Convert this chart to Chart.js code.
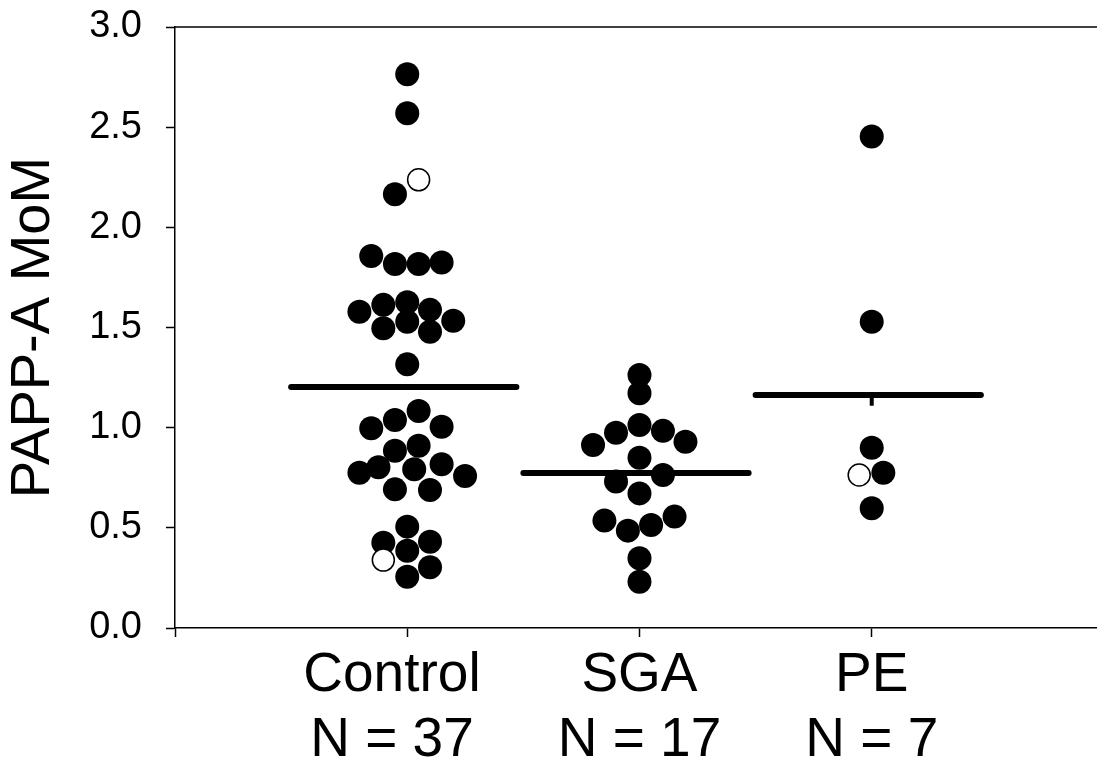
<!DOCTYPE html>
<html>
<head>
<meta charset="utf-8">
<script src="https://cdn.jsdelivr.net/npm/chart.js@4"></script>
<style>
  html, body { margin: 0; padding: 0; background: #fff; }
  #chart { display: block; }
</style>
</head>
<body>
<canvas id="chart" width="1097" height="770"></canvas>
<script>
// groups along the x axis
const categories = ['Control', 'SGA', 'PE'];
const counts = [37, 17, 7];
const yTicks = [0, 0.5, 1.0, 1.5, 2.0, 2.5, 3.0];

// PAPP-A MoM values (filled circles) and their horizontal jitter
const controlValues = [2.764, 2.570, 2.165, 1.857, 1.817, 1.817, 1.824, 1.579, 1.613, 1.626,
  1.588, 1.534, 1.496, 1.529, 1.479, 1.316, 1.083, 1.038, 0.997, 1.005, 0.885, 0.910,
  0.775, 0.802, 0.792, 0.817, 0.759, 0.692, 0.689, 0.506, 0.426, 0.431, 0.386, 0.303, 0.256];
const controlJitter = [0, 0, -0.053, -0.155, -0.053, 0.049, 0.148, -0.206, -0.103, 0,
  0.098, 0.198, -0.103, 0, 0.098, 0, 0.049, -0.053, -0.155, 0.148, -0.053, 0.049,
  -0.206, -0.124, 0.030, 0.148, 0.249, -0.053, 0.098, 0, -0.103, 0.098, 0, 0.098, 0];

const sgaValues = [1.263, 1.172, 0.914, 0.975, 1.013, 0.984, 0.930, 0.850, 0.731, 0.764,
  0.672, 0.536, 0.486, 0.514, 0.556, 0.348, 0.231];
const sgaJitter = [0, 0, -0.200, -0.101, 0, 0.101, 0.198, 0, -0.101, 0.101,
  0, -0.151, -0.050, 0.050, 0.151, 0, 0];

const peValues = [2.453, 1.529, 0.900, 0.775, 0.598];
const peJitter = [0, 0, 0, 0.050, 0];

// open circles
const controlOpenValues = [2.237, 0.339];
const controlOpenJitter = [0.049, -0.103];
const peOpenValues = [0.764];
const peOpenJitter = [-0.054];

// horizontal bars per group
const medians = [1.203, 0.774, 1.163];
const peStub = [1.163, 1.11];

const FONT = "'Liberation Sans', Arial, sans-serif";

function toPoints(group, values, jitter) {
  return values.map((v, i) => ({ x: group + jitter[i], y: v }));
}

function noOverflow(scale) {
  scale.paddingTop = 0;
  scale.paddingBottom = 0;
  scale.paddingLeft = 0;
  scale.paddingRight = 0;
}

// the Control label sits a little left of its tick in the original
function tickLabel(v) {
  if (v < 1) return '';
  const pad = v === 1 ? '  ' : '';
  return [categories[v - 1] + pad, 'N = ' + counts[v - 1] + pad];
}

const filled = [].concat(
  toPoints(1, controlValues, controlJitter),
  toPoints(2, sgaValues, sgaJitter),
  toPoints(3, peValues, peJitter)
);
const open = [].concat(
  toPoints(1, controlOpenValues, controlOpenJitter),
  toPoints(3, peOpenValues, peOpenJitter)
);

const barDatasets = medians.map((m, i) => ({
  type: 'line',
  data: [{ x: i + 1 - 0.5, y: m }, { x: i + 1 + 0.47, y: m }],
  borderColor: '#000',
  borderWidth: 6,
  borderCapStyle: 'round',
  pointRadius: 0,
  order: 3
}));

const topBorder = {
  id: 'topBorder',
  afterDraw(chart) {
    const { ctx, chartArea } = chart;
    ctx.save();
    ctx.strokeStyle = '#000';
    ctx.lineWidth = 1.5;
    ctx.beginPath();
    ctx.moveTo(chartArea.left, chartArea.top);
    ctx.lineTo(chartArea.right, chartArea.top);
    ctx.stroke();
    ctx.restore();
  }
};

new Chart(document.getElementById('chart'), {
  type: 'scatter',
  data: {
    datasets: [
      {
        data: open,
        backgroundColor: '#fff',
        borderColor: '#000',
        borderWidth: 1.5,
        pointRadius: 11,
        order: 0
      },
      {
        data: filled,
        backgroundColor: '#000',
        borderColor: '#000',
        borderWidth: 0,
        pointRadius: 12,
        order: 1
      },
      {
        type: 'line',
        data: [{ x: 3, y: peStub[0] }, { x: 3, y: peStub[1] }],
        borderColor: '#000',
        borderWidth: 4,
        pointRadius: 0,
        order: 2
      },
      ...barDatasets
    ]
  },
  options: {
    responsive: false,
    animation: false,
    layout: { autoPadding: false, padding: { top: 27, right: 0, left: 0, bottom: 0 } },
    plugins: {
      legend: { display: false },
      tooltip: { enabled: false }
    },
    scales: {
      x: {
        type: 'linear',
        min: 0,
        max: 3.97,
        afterBuildTicks: (scale) => {
          scale.ticks = [0, 1, 2, 3].map(v => ({ value: v }));
        },
        afterFit: (scale) => { scale.height = 142; noOverflow(scale); },
        grid: {
          drawOnChartArea: false,
          tickLength: 9,
          tickColor: '#000',
          tickWidth: 1.5
        },
        border: { color: '#000', width: 1.5 },
        ticks: {
          color: '#000',
          padding: 6,
          maxRotation: 0,
          autoSkip: false,
          font: { family: FONT, size: 55, lineHeight: 1.18 },
          callback: tickLabel
        }
      },
      y: {
        min: 0,
        max: 3,
        afterBuildTicks: (scale) => {
          scale.ticks = yTicks.map(v => ({ value: v }));
        },
        afterFit: (scale) => { scale.width = 175; noOverflow(scale); },
        grid: {
          drawOnChartArea: false,
          tickLength: 9,
          tickColor: '#000',
          tickWidth: 1.5
        },
        border: { color: '#000', width: 1.5 },
        ticks: {
          color: '#000',
          padding: 24,
          font: { family: FONT, size: 38 },
          callback: (v) => Number(v).toFixed(1)
        },
        title: {
          display: true,
          text: 'PAPP-A MoM',
          color: '#000',
          padding: { top: 0, bottom: 0 },
          font: { family: FONT, size: 56, lineHeight: 1.2 }
        }
      }
    }
  },
  plugins: [topBorder]
});
</script>
</body>
</html>
